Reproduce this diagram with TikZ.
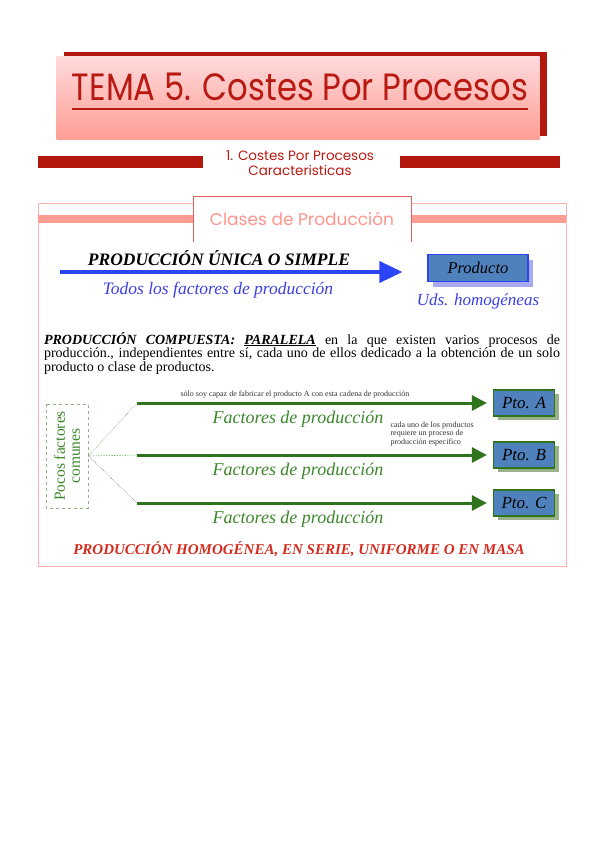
\documentclass[tikz,border=0pt]{standalone}
\usepackage{fontspec}
\setmainfont{Liberation Serif}
\newfontfamily\handfont{Poppins}
\usetikzlibrary{arrows.meta,positioning,calc,shadows}
\definecolor{darkred}{HTML}{B3180E}
\definecolor{titlered}{HTML}{B81A12}
\definecolor{pinktop}{HTML}{FFDADC}
\definecolor{pinkbot}{HTML}{FF9E95}
\definecolor{salmon}{HTML}{FF9D94}
\definecolor{tabred}{HTML}{E0605A}
\definecolor{framepink}{HTML}{FFB3B0}
\definecolor{arrowblue}{HTML}{2B45F5}
\definecolor{textblue}{HTML}{3B3FE6}
\definecolor{boxblue}{HTML}{4F81BD}
\definecolor{lavender}{HTML}{A9A9F2}
\definecolor{prodgreen}{HTML}{2F731C}
\definecolor{textgreen}{HTML}{3A862A}
\definecolor{greenshadow}{HTML}{9AB28A}
\definecolor{bottomred}{HTML}{D42A1E}

\begin{document}
\begin{tikzpicture}[x=1pt, y=-1pt,
  ptobox/.style={draw=prodgreen, line width=1.2pt, fill=boxblue, minimum width=61pt, minimum height=26pt, inner sep=0pt,
    font=\fontsize{17}{17}\selectfont\itshape,
    drop shadow={shadow xshift=4pt, shadow yshift=-4pt, fill=greenshadow, opacity=1}},
  flow/.style={prodgreen, line width=3pt, -{Triangle[length=15pt,width=15pt]}, shorten >=6pt},
  factlab/.style={textgreen, font=\fontsize{18}{18}\selectfont\itshape},
  hint/.style={font=\fontsize{8}{8.5}\selectfont, align=left, text=black!80},
  link/.style={densely dotted, line width=0.6pt}]
  \useasboundingbox (0,0) rectangle (599,848);
  % title
  \node[minimum width=483pt, minimum height=83pt, inner sep=0pt,
    top color=pinktop, bottom color=pinkbot,
    drop shadow={shadow xshift=7pt, shadow yshift=4pt, fill=darkred, opacity=1}] (titlebox) at (298,98) {};
  \node[text=titlered, font=\handfont\fontsize{38}{38}\selectfont, xscale=0.85] (title) at (300,87) {TEMA 5. Costes Por Procesos};
  \draw[titlered, line width=2pt] (72,109) -- (528,109);
  % subtitle
  \fill[darkred] (38,156) rectangle (203,168);
  \fill[darkred] (400,156) rectangle (560,168);
  \node[fill=white, text=titlered, align=center, inner sep=2pt,
    font=\handfont\fontsize{13.5}{14.5}\selectfont] (subtitle) at (300,163) {1. Costes Por Procesos\\Caracteristicas};
  % frame
  \draw[framepink, line width=0.8pt] (38,203) rectangle (566,566);
  \fill[salmon] (38,215) rectangle (566,223);
  \filldraw[tabred, fill=white, line width=0.8pt] (193,242) -- (193,196) -- (411,196) -- (411,242);
  \node[text=salmon!95!red, font=\handfont\fontsize{17}{17}\selectfont] (clases) at (302,219) {Clases de Producción};
  % simple
  \node[draw=arrowblue, line width=1.2pt, fill=boxblue, text=black, minimum width=100pt, minimum height=27pt,
    font=\fontsize{16.5}{16.5}\selectfont\itshape,
    drop shadow={shadow xshift=5pt, shadow yshift=-5pt, fill=lavender, opacity=1}] (producto) at (478,268) {Producto};
  \coordinate (simplein) at (60,272);
  \draw[arrowblue, line width=4pt, -{Triangle[length=23pt,width=21pt]}, shorten >=25pt] (simplein) -- (simplein -| producto.west);
  \node[font=\fontsize{17.5}{17.5}\selectfont\bfseries\itshape] (simple) at (219,258) {PRODUCCIÓN ÚNICA O SIMPLE};
  \node[text=textblue, font=\fontsize{17.5}{17.5}\selectfont\itshape] (todos) at (218,290) {Todos los factores de producción};
  \node[text=textblue, font=\fontsize{17}{17}\selectfont\itshape] (uds) at (478,301) {Uds. homogéneas};
  % compuesta
  \node[text width=516pt, align=justify, inner sep=0pt, font=\fontsize{14}{13.5}\selectfont] (compuesta) at (302,353)
    {\textbf{\textit{PRODUCCIÓN COMPUESTA:}} \underline{\textbf{\textit{PARALELA}}} en la que existen varios procesos de\linebreak producción., independientes entre sí, cada uno de ellos dedicado a la obtención de un solo\linebreak producto o clase de productos.};
  \node[draw=textgreen!60, dashed, line width=0.8pt, rotate=90, minimum width=104pt, minimum height=42pt, inner sep=1pt,
    align=center, text=textgreen, font=\fontsize{15.5}{15}\selectfont] (comunes) at (67,456) {Pocos factores\\comunes};
  \foreach \name/\yy/\lab/\col in {A/403/A/textgreen!70, B/455/B/textgreen, C/503/C/black!50} {
    \node[ptobox] (pto\name) at (524,\yy) {Pto. \lab};
    \coordinate (in\name) at (137,\yy);
    \draw[flow] (in\name) -- (pto\name);
    \draw[link, \col] (comunes.south) -- (in\name);
    \node[factlab] (fact\name) at (298,\yy+16) {Factores de producción};
  }
  \node[hint] (solo) at (295,395) {sólo soy capaz de fabricar el producto A con esta cadena de producción};
  \node[hint, anchor=north west] (cada) at (387,418) {cada uno de los productos\\requiere un proceso de\\producción especifico};
  \node[text=bottomred, font=\fontsize{15}{15}\selectfont\bfseries\itshape] (masa) at (299,549) {PRODUCCIÓN HOMOGÉNEA, EN SERIE, UNIFORME O EN MASA};
\end{tikzpicture}
\end{document}
